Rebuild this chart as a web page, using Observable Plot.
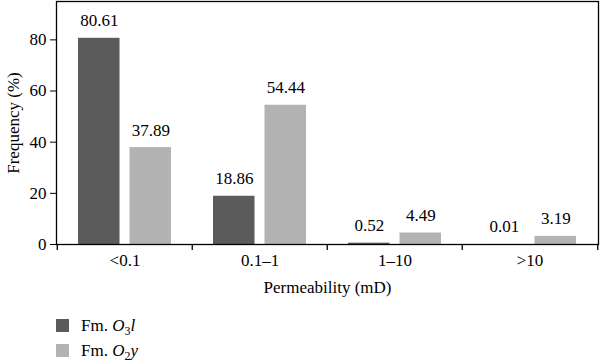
<!DOCTYPE html>
<html>
<head>
<meta charset="utf-8">
<script src="https://cdn.jsdelivr.net/npm/d3@7"></script>
<script src="https://cdn.jsdelivr.net/npm/@observablehq/plot@0.6"></script>
<style>
  html, body { margin: 0; padding: 0; background: #fff; }
  #chart { width: 600px; font-family: "Liberation Serif", "Times New Roman", serif; }
  #chart svg, #chart svg text { font-family: "Liberation Serif", "Times New Roman", serif !important; }
  #legend { position: relative; width: 600px; height: 56px; font-family: "Liberation Serif", "Times New Roman", serif; font-size: 17px; color: #000; }
  .row { position: absolute; left: 56px; display: flex; align-items: center; height: 13px; }
  .sw { width: 12.5px; height: 12.5px; margin-right: 12.5px; }
  sub { font-size: 0.7em; vertical-align: -0.3em; line-height: 0; }
</style>
</head>
<body>
<div id="chart"></div>
<div id="legend"></div>
<script>
const categories = ["<0.1", "0.1\u20131", "1\u201310", ">10"];
const o3lValues = [80.61, 18.86, 0.52, 0.01];
const o2yValues = [37.89, 54.44, 4.49, 3.19];
const yTicks = [0, 20, 40, 60, 80];
const colors = ["#5b5b5b", "#b3b3b3"];

const W = 600, H = 305;
const mL = 56, mR = 2, mT = 1, mB = 61;
const band = (W - mL - mR) / categories.length;
const pad = 21, barW = 42, gap = band - 2 * pad - 2 * barW;

const rows = [];
categories.forEach((c, i) => {
  rows.push({cat: c, s: 0, v: o3lValues[i]});
  rows.push({cat: c, s: 1, v: o2yValues[i]});
});
const dark = rows.filter(d => d.s === 0);
const light = rows.filter(d => d.s === 1);
const offset = band / 2 - pad - barW / 2;

const plot = Plot.plot({
  width: W, height: H,
  marginLeft: mL, marginRight: mR, marginTop: mT, marginBottom: mB,
  style: {fontFamily: "'Liberation Serif', 'Times New Roman', serif", fontSize: "17px", color: "#000", background: "#fff"},
  x: {domain: categories, padding: 0, tickSize: 0, tickPadding: 9, label: "Permeability (mD)", labelAnchor: "center", labelOffset: 48},
  y: {domain: [0, 95], ticks: yTicks, tickSize: 6, tickPadding: 4, label: "Frequency (%)", labelAnchor: "center", labelOffset: 50, labelArrow: "none"},
  marks: [
    Plot.barY(dark, {x: "cat", y: "v", fill: colors[0], insetLeft: pad, insetRight: pad + barW + gap}),
    Plot.barY(light, {x: "cat", y: "v", fill: colors[1], insetLeft: pad + barW + gap, insetRight: pad}),
    Plot.text(dark, {x: "cat", y: "v", text: d => d.v.toFixed(2), dx: -offset, dy: -17.5, fill: "#000", fontSize: 17, lineAnchor: "middle"}),
    Plot.text(light, {x: "cat", y: "v", text: d => d.v.toFixed(2), dx: offset, dy: -17.5, fill: "#000", fontSize: 17, lineAnchor: "middle"}),
    Plot.ruleX(categories, {x: d => d, dx: -band / 2, insetTop: H - mT - mB, insetBottom: -6, stroke: "#000", strokeWidth: 1.3}),
    Plot.ruleX([categories[categories.length - 1]], {x: d => d, dx: band / 2, insetTop: H - mT - mB, insetBottom: -6, stroke: "#000", strokeWidth: 1.3}),
    Plot.frame({stroke: "#000", strokeWidth: 1.3})
  ]
});
document.getElementById("chart").appendChild(plot);

const legendItems = [
  {html: 'Fm. <i>O</i><sub>3</sub><i>l</i>', color: colors[0]},
  {html: 'Fm. <i>O</i><sub>2</sub><i>y</i>', color: colors[1]}
];
const lg = document.getElementById("legend");
legendItems.forEach((it, i) => {
  const r = document.createElement("div");
  r.className = "row";
  r.style.top = (14 + i * 25) + "px";
  r.innerHTML = `<span class="sw" style="background:${it.color}"></span><span>${it.html}</span>`;
  lg.appendChild(r);
});
</script>
</body>
</html>
